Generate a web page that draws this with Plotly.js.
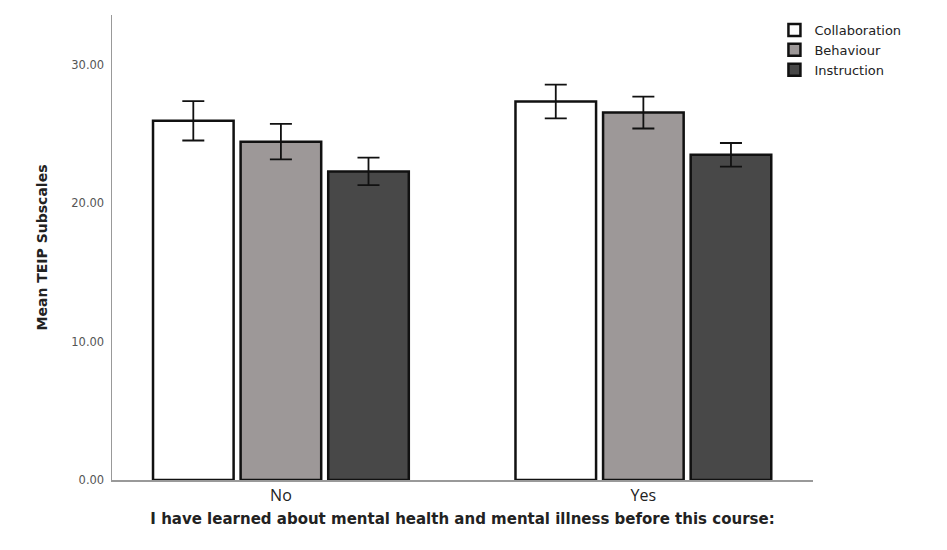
<!DOCTYPE html>
<html>
<head>
<meta charset="utf-8">
<script src="https://cdn.plot.ly/plotly-3.0.1.min.js"></script>
<style>html,body{margin:0;padding:0;background:#fff;}#chart{width:947px;height:550px;}</style>
</head>
<body>
<div id="chart"></div>
<script>
const categories = ["No", "Yes"];
const seriesNames = ["Collaboration", "Behaviour", "Instruction"];
const collaboration = [25.95, 27.35];
const collaborationErr = [1.42, 1.22];
const behaviour = [24.45, 26.55];
const behaviourErr = [1.28, 1.15];
const instruction = [22.3, 23.5];
const instructionErr = [1.0, 0.85];
const yTicks = [0, 10, 20, 30];

const colors = ["#ffffff", "#9d9898", "#484848"];
const values = [collaboration, behaviour, instruction];
const errs = [collaborationErr, behaviourErr, instructionErr];

const traces = seriesNames.map((name, i) => ({
  type: "bar",
  name: name,
  x: categories,
  y: values[i],
  marker: { color: colors[i], line: { color: "#111", width: 2.5 } },
  error_y: { type: "data", array: errs[i], visible: true, color: "#111", thickness: 1.8, width: 11 }
}));

const layout = {
  width: 947, height: 550,
  margin: { l: 112, r: 134, t: 15, b: 70 },
  paper_bgcolor: "#fff", plot_bgcolor: "#fff",
  barmode: "group", bargap: 0.275, bargroupgap: 0.08,
  font: { family: "DejaVu Sans, sans-serif", color: "#222" },
  xaxis: {
    type: "category", range: [-0.466, 1.468],
    showline: true, linecolor: "#999", linewidth: 1.5,
    ticks: "", showgrid: false, zeroline: false,
    tickfont: { size: 16, family: "Open Sans, sans-serif", color: "#222" },
    title: { text: "<b>I have learned about mental health and mental illness before this course:</b>", font: { size: 15, color: "#222" }, standoff: 9 }
  },
  yaxis: {
    range: [0, 33.6], tickvals: yTicks, tickformat: ".2f",
    showline: true, linecolor: "#999", linewidth: 1.5,
    ticks: "", showgrid: false, zeroline: false, ticklabelstandoff: 4,
    tickfont: { size: 11.5, color: "#555" },
    title: { text: "<b>Mean TEIP Subscales</b>", font: { size: 14, color: "#222" }, standoff: 20 }
  },
  legend: {
    x: 0.945, y: 1.0, xanchor: "left", yanchor: "top",
    font: { size: 13, color: "#222" }, tracegroupgap: 0,
    bgcolor: "rgba(0,0,0,0)", itemwidth: 30
  },
  showlegend: true
};

Plotly.newPlot("chart", traces, layout, { displayModeBar: false, staticPlot: true });
</script>
</body>
</html>
